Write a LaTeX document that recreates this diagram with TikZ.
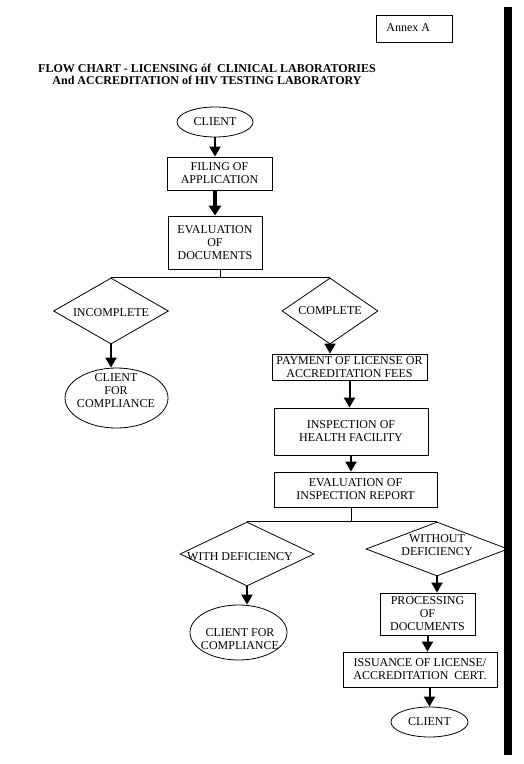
\documentclass[tikz,border=0pt]{standalone}
\usepackage{fontspec}
\setmainfont{Liberation Serif}
\usetikzlibrary{shapes.geometric,arrows.meta}
\begin{document}
\begin{tikzpicture}[x=1pt, y=-1pt, line width=0.8pt,
  font=\fontsize{12}{13}\selectfont,
  box/.style={draw, rectangle, align=center, inner sep=0pt},
  oval/.style={draw, ellipse, inner sep=0pt},
  dia/.style={draw, diamond, inner sep=0pt},
  txt/.style={align=center, inner sep=0pt},
  arr/.style={line width=2pt, -{Triangle[width=11pt,length=10pt]}},
  fatarr/.style={line width=4pt, -{Triangle[width=12pt,length=10pt]}}]
\useasboundingbox (0,0) rectangle (523,764);
\fill (504,7) rectangle (512,755);
\node[box, minimum width=76, minimum height=27] (A_0) at (414,28.5) {};
\node[anchor=west, inner sep=0pt] (A_1) at (386,28) {Annex A};
\node[txt, font=\fontsize{12}{12}\selectfont\bfseries] (T_0) at (207,74) {FLOW CHART - LICENSING óf\ \ CLINICAL LABORATORIES\\And ACCREDITATION of HIV TESTING LABORATORY};
\node[oval, minimum width=76, minimum height=30] (P_0_0) at (215,122) {CLIENT};
\node[box, minimum width=105, minimum height=33] (P_1_0) at (219.5,173.5) {FILING OF\\APPLICATION};
\draw[arr] (P_0_0.south) -- (P_0_0.south |- P_1_0.north);
\node[box, minimum width=94, minimum height=53] (P_2_0) at (215,242.5) {EVALUATION\\OF\\DOCUMENTS};
\draw[fatarr] (P_2_0.north |- P_1_0.south) -- (P_2_0.north);
\node[dia, minimum width=115, minimum height=66] (P_3_0) at (111,311) {};
\node[txt] (L_3_0) at (111,313) {INCOMPLETE};
\node[dia, minimum width=96, minimum height=66] (P_3_1) at (330,311) {};
\node[txt] (L_3_1) at (330,311) {COMPLETE};
\coordinate (J_2) at (220,278);
\draw (J_2 |- P_2_0.south) -- (J_2);
\draw (P_3_0.north) -- (P_3_1.north);
\node[oval, minimum width=103, minimum height=60] (P_4_0) at (116.5,398) {};
\node[txt] (L_4_0) at (116,390.5) {CLIENT\\FOR\\COMPLIANCE};
\draw[arr] (P_3_0.south) -- (P_3_0.south |- P_4_0.north);
\node[box, minimum width=155, minimum height=26] (P_4_1) at (349.5,367) {PAYMENT OF LICENSE OR\\ACCREDITATION FEES};
\draw[arr] (P_3_1.south) -- (P_3_1.south |- P_4_1.north);
\node[box, minimum width=154, minimum height=47] (P_5_1) at (351,431.5) {INSPECTION OF\\HEALTH FACILITY};
\draw[arr] (P_4_1.south) -- (P_4_1.south |- P_5_1.north);
\node[box, minimum width=163, minimum height=35] (P_6_1) at (355.5,489.5) {EVALUATION OF\\INSPECTION REPORT};
\draw[arr] (P_5_1.south) -- (P_5_1.south |- P_6_1.north);
\node[dia, minimum width=134, minimum height=64] (P_7_0) at (247,554) {};
\node[txt] (L_7_0) at (240,557) {WITH DEFICIENCY};
\node[dia, minimum width=142, minimum height=54] (P_7_1) at (437,549) {};
\node[txt] (L_7_1) at (437,545) {WITHOUT\\DEFICIENCY};
\coordinate (J_6) at (351,522);
\draw (J_6 |- P_6_1.south) -- (J_6);
\draw (P_7_0.north) -- (P_7_1.north);
\node[oval, minimum width=97, minimum height=55] (P_8_0) at (238.5,632.5) {};
\node[txt] (L_8_0) at (240,639) {CLIENT FOR\\COMPLIANCE};
\draw[arr] (P_7_0.south) -- (P_7_0.south |- P_8_0.north);
\node[box, minimum width=95, minimum height=42] (P_8_1) at (427.5,614) {PROCESSING\\OF\\DOCUMENTS};
\draw[arr] (P_7_1.south) -- (P_7_1.south |- P_8_1.north);
\node[box, minimum width=154, minimum height=35] (P_9_1) at (420,669.5) {ISSUANCE OF LICENSE/\\ACCREDITATION\ \ CERT.};
\draw[arr] (P_8_1.south) -- (P_8_1.south |- P_9_1.north);
\node[oval, minimum width=77, minimum height=30] (P_10_1) at (429.5,722) {CLIENT};
\draw[arr] (P_10_1.north |- P_9_1.south) -- (P_10_1.north);
\end{tikzpicture}
\end{document}
